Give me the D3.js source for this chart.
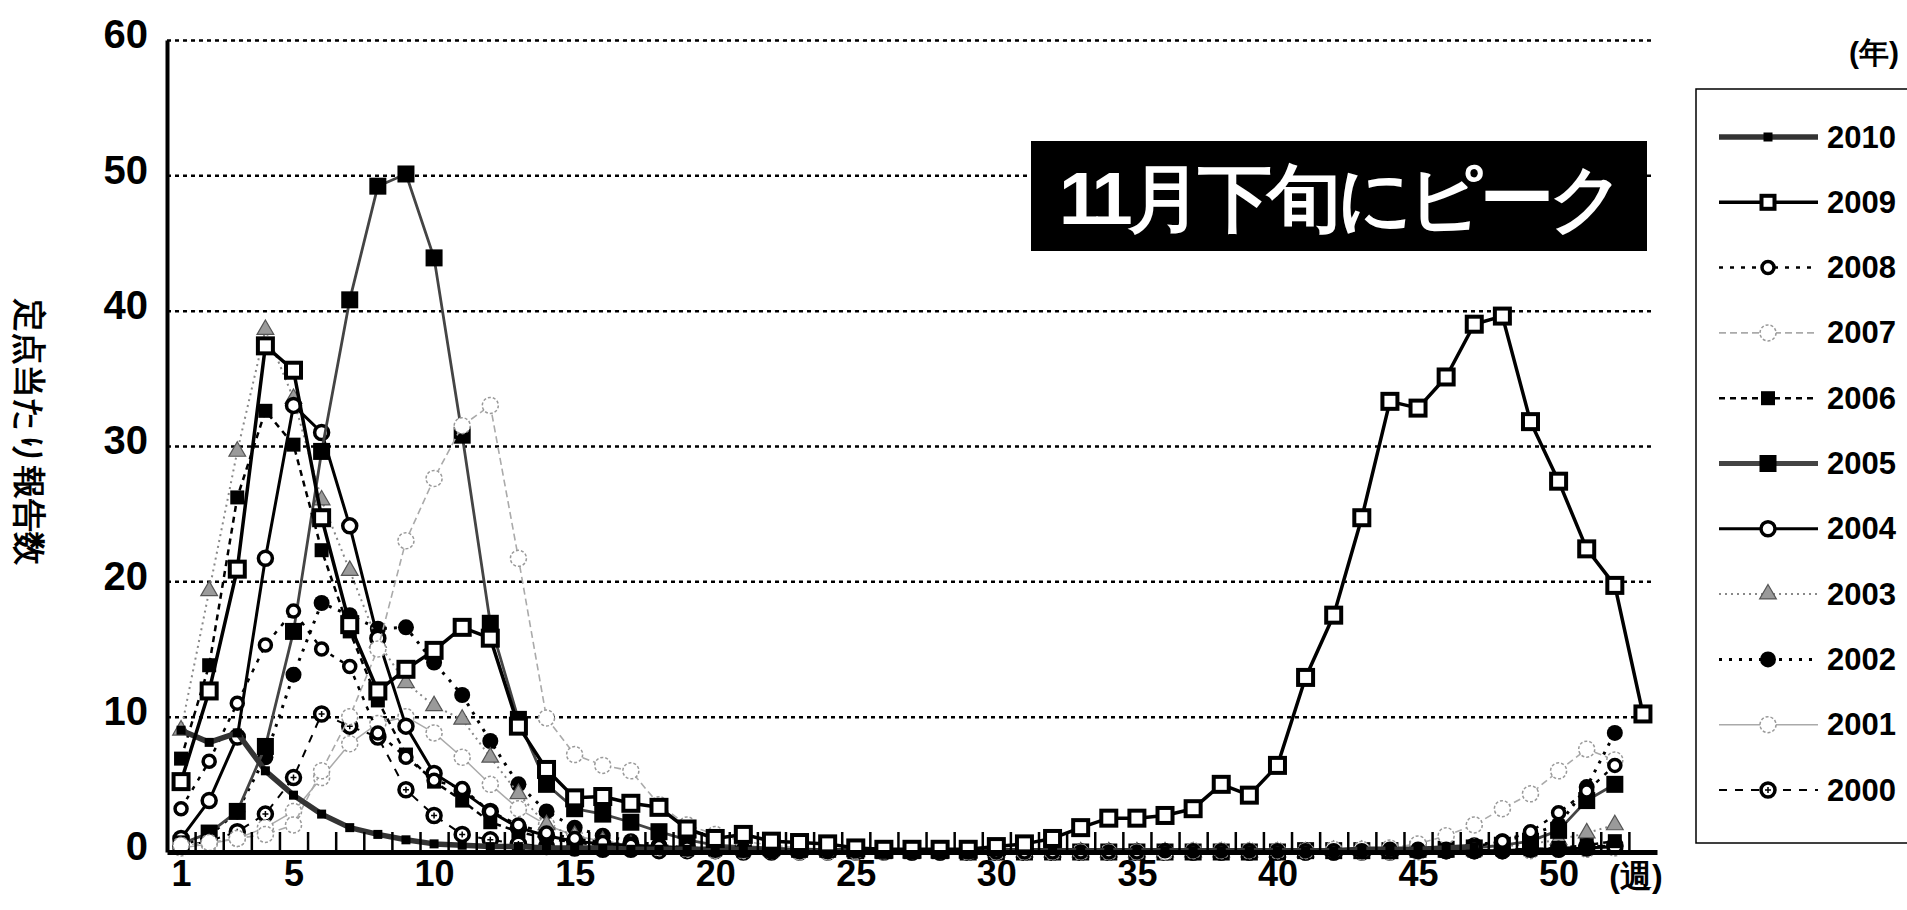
<!DOCTYPE html>
<html><head><meta charset="utf-8">
<script src="https://cdn.jsdelivr.net/npm/d3@7"></script>
<style>
body{margin:0;background:#fff;overflow:hidden;}
svg{display:block;}
text{font-family:"Liberation Sans",Arial,sans-serif;font-weight:bold;fill:#000;}
</style></head><body>
<svg id="c" width="1907" height="910"></svg>
<script>
// ---- data ----
const weeks = [1,2,3,4,5,6,7,8,9,10,11,12,13,14,15,16,17,18,19,20,21,22,23,24,25,26,27,28,29,30,31,32,33,34,35,36,37,38,39,40,41,42,43,44,45,46,47,48,49,50,51,52,53];
const xTickLabels = [1,5,10,15,20,25,30,35,40,45,50];
const yTickValues = [0,10,20,30,40,50,60];
const years = ["2010","2009","2008","2007","2006","2005","2004","2003","2002","2001","2000"];

const v2010 = [9.0,8.1,8.8,6.0,4.2,2.8,1.8,1.3,0.9,0.6,0.5,0.4,0.4,0.3,0.3,0.3,0.2,0.2,0.2,0.2,0.2,0.1,0.1,0.1,0.1,0.1,0.1,0.1,0.1,0.1,0.1,0.1,0.1,0.1,0.1,0.1,0.1,0.1,0.1,0.1,0.1,0.1,0.2,0.2,0.2,0.3,0.4];
const v2009 = [5.2,11.9,20.9,37.4,35.6,24.7,16.8,11.9,13.5,14.9,16.6,15.8,9.3,6.1,4.0,4.1,3.6,3.3,1.7,1.0,1.3,0.8,0.7,0.6,0.3,0.2,0.2,0.2,0.2,0.4,0.6,1.0,1.8,2.5,2.5,2.7,3.2,5.0,4.2,6.4,12.9,17.5,24.7,33.3,32.8,35.1,39.0,39.6,31.8,27.4,22.4,19.7,10.2];
const v2008 = [3.2,6.7,11.0,15.3,17.8,15.0,13.7,8.8,7.0,5.3,4.7,3.0,2.0,1.4,1.0,0.7,0.5,0.4,0.3,0.2,0.2,0.1,0.1,0.1,0.1,0.1,0.0,0.0,0.0,0.0,0.0,0.0,0.0,0.0,0.0,0.1,0.1,0.1,0.1,0.1,0.1,0.1,0.1,0.2,0.2,0.2,0.4,0.8,1.5,2.9,4.5,6.4];
const v2007 = [0.5,0.7,1.0,1.3,2.0,6.0,10.0,15.0,23.0,27.6,31.5,33.0,21.7,9.9,7.2,6.4,6.0,3.5,2.0,1.3,0.8,0.5,0.3,0.2,0.1,0.1,0.1,0.1,0.0,0.0,0.0,0.0,0.0,0.0,0.0,0.0,0.1,0.1,0.1,0.1,0.1,0.2,0.2,0.3,0.6,1.2,2.0,3.2,4.3,6.0,7.6,6.8];
const v2006 = [6.9,13.8,26.2,32.6,30.1,22.3,16.3,11.2,7.2,5.2,3.8,2.2,1.5,1.0,0.7,0.5,0.4,0.3,0.2,0.2,0.1,0.1,0.1,0.1,0.0,0.0,0.0,0.0,0.0,0.0,0.0,0.0,0.0,0.0,0.0,0.0,0.0,0.0,0.0,0.0,0.0,0.1,0.1,0.1,0.1,0.1,0.1,0.2,0.2,0.3,0.5,0.8];
const v2005 = [0.6,1.4,3.0,7.8,16.3,29.6,40.8,49.2,50.1,43.9,30.8,16.9,9.8,5.0,3.2,2.8,2.2,1.5,0.9,0.5,0.4,0.3,0.2,0.2,0.1,0.1,0.1,0.1,0.0,0.0,0.0,0.0,0.0,0.0,0.0,0.0,0.0,0.0,0.0,0.0,0.1,0.1,0.1,0.1,0.2,0.2,0.3,0.5,0.8,1.6,3.8,5.0];
const v2004 = [1.0,3.8,8.5,21.7,33.0,31.0,24.1,15.8,9.3,5.8,4.5,3.0,1.8,1.2,0.8,0.6,0.5,0.4,0.3,0.2,0.2,0.1,0.1,0.1,0.1,0.1,0.0,0.0,0.0,0.0,0.0,0.0,0.0,0.0,0.0,0.0,0.0,0.0,0.0,0.0,0.0,0.0,0.1,0.1,0.1,0.1,0.1,0.1,0.2,0.2,0.3,0.4];
const v2003 = [9.0,19.3,29.6,38.6,33.5,26.0,20.8,15.5,12.5,10.8,9.8,7.0,4.3,2.0,1.2,0.8,0.5,0.4,0.3,0.2,0.2,0.1,0.1,0.1,0.1,0.0,0.0,0.0,0.0,0.0,0.0,0.0,0.0,0.0,0.0,0.0,0.0,0.0,0.0,0.0,0.0,0.1,0.1,0.1,0.1,0.2,0.3,0.4,0.6,0.9,1.4,2.0];
const v2002 = [0.5,1.2,3.0,7.0,13.1,18.4,17.5,16.5,16.6,14.0,11.6,8.2,5.0,3.0,1.8,1.2,0.8,0.5,0.3,0.2,0.2,0.1,0.1,0.1,0.1,0.0,0.0,0.0,0.0,0.0,0.0,0.0,0.0,0.0,0.0,0.0,0.0,0.0,0.0,0.0,0.1,0.1,0.1,0.2,0.2,0.3,0.5,0.8,1.3,2.0,4.8,8.8];
const v2001 = [0.3,0.6,1.0,1.8,3.0,5.5,8.0,9.5,10.0,8.8,7.0,5.0,3.2,2.0,1.2,0.8,0.5,0.3,0.2,0.1,0.1,0.1,0.0,0.0,0.0,0.0,0.0,0.0,0.0,0.0,0.0,0.0,0.0,0.0,0.0,0.0,0.0,0.0,0.0,0.0,0.0,0.0,0.0,0.0,0.0,0.1,0.1,0.1,0.1,0.2,0.2,0.3];
const v2000 = [0.4,0.8,1.5,2.8,5.5,10.2,9.3,8.5,4.6,2.7,1.3,0.9,0.6,0.4,0.3,0.2,0.2,0.1,0.1,0.1,0.0,0.0,0.0,0.0,0.0,0.0,0.0,0.0,0.0,0.0,0.0,0.0,0.0,0.0,0.0,0.0,0.0,0.0,0.0,0.0,0.0,0.0,0.0,0.0,0.1,0.1,0.1,0.1,0.2,0.3,0.4,0.5];

const seriesValues = {"2010":v2010,"2009":v2009,"2008":v2008,"2007":v2007,"2006":v2006,"2005":v2005,"2004":v2004,"2003":v2003,"2002":v2002,"2001":v2001,"2000":v2000};

// ---- styles ----
const styles = {
  "2010":{stroke:"#333",sw:5.5,dash:null,marker:"fsq",ms:9},
  "2009":{stroke:"#000",sw:3.5,dash:null,marker:"osq",ms:19},
  "2008":{stroke:"#000",sw:2.5,dash:"4,7",marker:"ocirc",ms:6},
  "2007":{stroke:"#aaa",sw:1.6,dash:"7,4",marker:"lcirc",ms:8},
  "2006":{stroke:"#000",sw:2.5,dash:"6,5",marker:"fsq",ms:14},
  "2005":{stroke:"#444",sw:2.8,dash:null,marker:"fsq",ms:17},
  "2004":{stroke:"#000",sw:3,dash:null,marker:"ocirc",ms:7},
  "2003":{stroke:"#888",sw:2,dash:"2,4",marker:"tri",ms:11},
  "2002":{stroke:"#000",sw:3,dash:"3,7",marker:"fcirc",ms:8},
  "2001":{stroke:"#aaa",sw:1.5,dash:null,marker:"lcirc",ms:8},
  "2000":{stroke:"#000",sw:2,dash:"8,8",marker:"pcirc",ms:7}
};

const svg = d3.select("#c");
const x = d3.scaleLinear().domain([0.5,53.5]).range([167,1657]);
const y = d3.scaleLinear().domain([0,60]).range([852,40]);

// gridlines
const grid = svg.append("g").attr("transform","translate(167,0)")
  .call(d3.axisLeft(y).tickValues(yTickValues.filter(v=>v>0)).tickSize(-1487).tickFormat(""));
grid.select(".domain").remove();
grid.selectAll("line").attr("stroke","#000").attr("stroke-width",2.5).attr("stroke-dasharray","4,4");

// y tick labels
const yl = svg.append("g").attr("transform","translate(148,0)")
  .call(d3.axisLeft(y).tickValues(yTickValues).tickSize(0).tickPadding(0));
yl.select(".domain").remove();
yl.selectAll("text").attr("font-size",40).attr("font-family","'Liberation Sans',Arial,sans-serif")
  .attr("font-weight","bold").attr("transform","translate(0,-5)");

// x labels
const xl = svg.append("g").attr("transform","translate(0,860)")
  .call(d3.axisBottom(x).tickValues(xTickLabels).tickSize(0).tickPadding(0));
xl.select(".domain").remove();
xl.selectAll("text").attr("font-size",36).attr("font-family","'Liberation Sans',Arial,sans-serif").attr("font-weight","bold");

// series
const line = d3.line().x((d,i)=>x(weeks[i])).y(d=>y(d));
function drawMarker(g, type, cx, cy, ms){
  if(type==="fsq"){
    g.append("rect").attr("x",cx-ms/2).attr("y",cy-ms/2).attr("width",ms).attr("height",ms).attr("fill","#000");
  } else if(type==="osq"){
    g.append("rect").attr("x",cx-ms/2+2).attr("y",cy-ms/2+2).attr("width",ms-4).attr("height",ms-4)
      .attr("fill","#fff").attr("stroke","#000").attr("stroke-width",4);
  } else if(type==="ocirc"){
    g.append("circle").attr("cx",cx).attr("cy",cy).attr("r",ms).attr("fill","#fff").attr("stroke","#000").attr("stroke-width",3.5);
  } else if(type==="pcirc"){
    g.append("circle").attr("cx",cx).attr("cy",cy).attr("r",ms).attr("fill","#fff").attr("stroke","#000").attr("stroke-width",3.5);
    g.append("path").attr("d",`M${cx-3},${cy}H${cx+3}M${cx},${cy-3}V${cy+3}`).attr("stroke","#000").attr("stroke-width",1.5);
  } else if(type==="lcirc"){
    g.append("circle").attr("cx",cx).attr("cy",cy).attr("r",ms).attr("fill","#fff").attr("stroke","#999").attr("stroke-width",1.5).attr("stroke-dasharray","3,2");
  } else if(type==="fcirc"){
    g.append("circle").attr("cx",cx).attr("cy",cy).attr("r",ms).attr("fill","#000");
  } else if(type==="tri"){
    g.append("path").attr("d",d3.symbol().type(d3.symbolTriangle).size(ms*ms)()).attr("transform",`translate(${cx},${cy})`)
      .attr("fill","#9a9a9a").attr("stroke","#555").attr("stroke-width",1.2);
  }
}
const drawOrder = ["2000","2001","2002","2003","2004","2005","2006","2007","2008","2010","2009"];
drawOrder.forEach(yr=>{
  const st = styles[yr], vals = seriesValues[yr];
  const g = svg.append("g");
  g.append("path").datum(vals).attr("d",line).attr("fill","none").attr("stroke",st.stroke)
    .attr("stroke-width",st.sw).attr("stroke-dasharray",st.dash).attr("stroke-linejoin","round");
  vals.forEach((v,i)=>drawMarker(g, st.marker, x(weeks[i]), y(v), st.ms));
});

// x tick marks (between categories), inside the plot
const tickPos = weeks.slice(0,52).map(w=>w+0.5);
const xt = svg.append("g").attr("transform","translate(0,852)")
  .call(d3.axisBottom(x).tickValues(tickPos).tickSizeInner(-20).tickSizeOuter(0).tickFormat(""));
xt.select(".domain").remove();
xt.selectAll("line").attr("stroke","#000").attr("stroke-width",2.5);

// axes lines
svg.append("g").attr("transform","translate(167,0)")
  .call(d3.axisLeft(y).tickValues([]).tickSizeOuter(0))
  .select(".domain").attr("stroke","#000").attr("stroke-width",4);
svg.append("g").attr("transform","translate(0,852)")
  .call(d3.axisBottom(x).tickValues([]).tickSizeOuter(0))
  .select(".domain").attr("stroke","#000").attr("stroke-width",5);

// y title
svg.append("text").attr("transform","translate(18,432) rotate(90)").attr("text-anchor","middle")
  .attr("font-size",33).attr("font-family","'Noto Sans CJK JP',sans-serif").attr("font-weight","900")
  .text("定点当たり報告数");
// unit labels
svg.append("text").attr("x",1636).attr("y",876).attr("dominant-baseline","central").attr("text-anchor","middle")
  .attr("font-size",32).attr("font-family","'Noto Sans CJK JP',sans-serif").attr("font-weight","bold").text("(週)");
svg.append("text").attr("x",1874).attr("y",52).attr("dominant-baseline","central").attr("text-anchor","middle")
  .attr("font-size",30).attr("font-family","'Noto Sans CJK JP',sans-serif").attr("font-weight","bold").text("(年)");

// annotation
svg.append("rect").attr("x",1031).attr("y",141).attr("width",616).attr("height",110).attr("fill","#000");
svg.append("text").attr("x",1059).attr("y",198).attr("dominant-baseline","central")
  .attr("font-size",74).attr("font-family","'Noto Sans CJK JP',sans-serif").attr("font-weight","bold")
  .attr("textLength",566).attr("lengthAdjust","spacing").style("fill","#fff").text("11月下旬にピーク");

// legend
svg.append("rect").attr("x",1696).attr("y",89).attr("width",240).attr("height",754).attr("fill","none").attr("stroke","#000").attr("stroke-width",1.5);
years.forEach((yr,i)=>{
  const st = styles[yr];
  const cy = 137 + i*65.3;
  const g = svg.append("g");
  g.append("line").attr("x1",1719).attr("x2",1818).attr("y1",cy).attr("y2",cy).attr("stroke",st.stroke)
    .attr("stroke-width",yr==="2005"?5:st.sw).attr("stroke-dasharray",st.dash);
  drawMarker(g, st.marker, 1768, cy, st.marker==="osq"?17:st.ms);
  g.append("text").attr("x",1827).attr("y",cy).attr("dominant-baseline","central").attr("font-size",31).text(yr);
});
</script>
</body></html>
